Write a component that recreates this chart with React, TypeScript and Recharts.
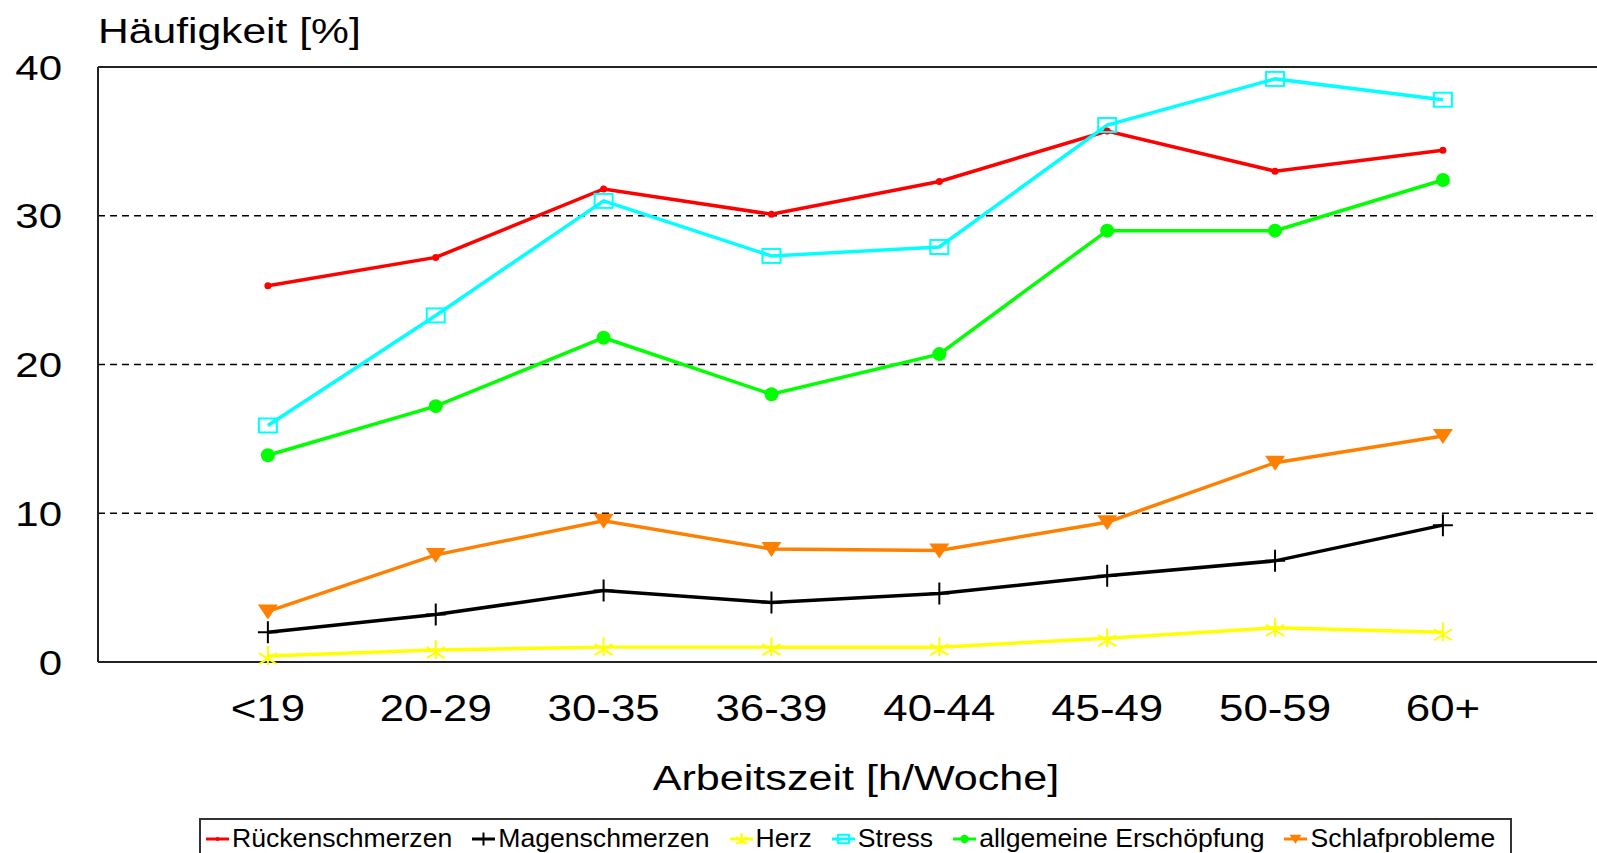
import React from 'react';
import { LineChart, Line, XAxis, YAxis, ReferenceLine } from 'recharts';

const categories = ['<19', '20-29', '30-35', '36-39', '40-44', '45-49', '50-59', '60+'];
const ruecken = [25.3, 27.2, 31.8, 30.1, 32.3, 35.7, 33.0, 34.4];
const magen = [2.0, 3.2, 4.8, 4.0, 4.6, 5.8, 6.8, 9.2];
const herz = [0.4, 0.8, 1.0, 1.0, 1.0, 1.6, 2.3, 2.0];
const stress = [15.9, 23.3, 31.0, 27.3, 27.9, 36.1, 39.2, 37.8];
const erschoepfung = [13.9, 17.2, 21.8, 18.0, 20.7, 29.0, 29.0, 32.4];
const schlaf = [3.4, 7.2, 9.5, 7.6, 7.5, 9.4, 13.4, 15.2];
const yTicks = [0, 10, 20, 30, 40];
const gridValues = [10, 20, 30];
const xTicks = categories.map((_, i) => i + 1);

type MarkerType = 'dot' | 'plus' | 'star' | 'square' | 'circle' | 'triangle';

const series: { key: string; name: string; color: string; marker: MarkerType; values: number[] }[] = [
  { key: 'ruecken', name: 'Rückenschmerzen', color: '#FF0000', marker: 'dot', values: ruecken },
  { key: 'magen', name: 'Magenschmerzen', color: '#000000', marker: 'plus', values: magen },
  { key: 'herz', name: 'Herz', color: '#FFFF00', marker: 'star', values: herz },
  { key: 'stress', name: 'Stress', color: '#00FFFF', marker: 'square', values: stress },
  { key: 'erschoepfung', name: 'allgemeine Erschöpfung', color: '#00FF00', marker: 'circle', values: erschoepfung },
  { key: 'schlaf', name: 'Schlafprobleme', color: '#FF8000', marker: 'triangle', values: schlaf },
];

const data = categories.map((c, i) => {
  const row: Record<string, number | string> = { x: i + 1, cat: c };
  series.forEach((s) => {
    row[s.key] = s.values[i];
  });
  return row;
});

const FONT = '"Liberation Sans", Arial, sans-serif';
const STRETCH = 1.2;

function Marker({ cx, cy, type, color, s = 1 }: { cx: number; cy: number; type: MarkerType; color: string; s?: number }) {
  switch (type) {
    case 'dot':
      return <circle cx={cx} cy={cy} r={3.5 * s} fill={color} />;
    case 'plus':
      return (
        <path
          d={`M${cx - 10 * s},${cy}H${cx + 10 * s}M${cx},${cy - 11 * s}V${cy + 11 * s}`}
          stroke={color}
          strokeWidth={2}
          fill="none"
        />
      );
    case 'star':
      return (
        <path
          d={`M${cx},${cy - 10 * s}V${cy + 9 * s}M${cx - 9 * s},${cy - 3 * s}L${cx + 9 * s},${cy + 8 * s}M${cx + 9 * s},${cy - 3 * s}L${cx - 9 * s},${cy + 8 * s}`}
          stroke={color}
          strokeWidth={2}
          fill="none"
        />
      );
    case 'square':
      return (
        <rect x={cx - 9 * s} y={cy - 7 * s} width={18 * s} height={14 * s} fill="none" stroke={color} strokeWidth={2} />
      );
    case 'circle':
      return <circle cx={cx} cy={cy} r={7 * s} fill={color} />;
    case 'triangle':
      return (
        <polygon
          points={`${cx - 10 * s},${cy - 7 * s} ${cx + 10 * s},${cy - 7 * s} ${cx},${cy + 8 * s}`}
          fill={color}
        />
      );
  }
  return null;
}

function YTick(props: any) {
  const { y, payload } = props;
  return (
    <text
      transform={`translate(62,${y + 12.5}) scale(${STRETCH},1)`}
      textAnchor="end"
      fontFamily={FONT}
      fontSize={35}
      fill="#000"
    >
      {payload.value}
    </text>
  );
}

function XTick(props: any) {
  const { x, payload } = props;
  const label = categories[payload.value - 1] ?? '';
  return (
    <text
      transform={`translate(${x},721) scale(${STRETCH},1)`}
      textAnchor="middle"
      fontFamily={FONT}
      fontSize={36.5}
      fill="#000"
    >
      {label}
    </text>
  );
}

export default function App() {
  return (
    <div style={{ position: 'fixed', left: 0, top: 0, width: 1597, height: 853, overflow: 'hidden', background: '#fff' }}>
      <LineChart width={1597} height={853} data={data} margin={{ top: 67, right: 0, bottom: 100, left: 0 }}>
        <XAxis
          dataKey="x"
          type="number"
          domain={[-0.012, 8.918]}
          ticks={xTicks}
          allowDataOverflow
          height={91}
          tickLine={false}
          axisLine={{ stroke: '#222', strokeWidth: 2 }}
          tick={<XTick />}
        />
        <YAxis
          type="number"
          domain={[0, 40]}
          ticks={yTicks}
          width={98}
          tickLine={false}
          axisLine={{ stroke: '#222', strokeWidth: 2 }}
          tick={<YTick />}
        />
        {gridValues.map((v) => (
          <ReferenceLine key={v} y={v} stroke="#000" strokeWidth={1.5} strokeDasharray="7 5" ifOverflow="extendDomain" />
        ))}
        <ReferenceLine y={40} stroke="#222" strokeWidth={2} />
        {series.map((s) => (
          <Line
            key={s.key}
            dataKey={s.key}
            name={s.name}
            stroke={s.color}
            strokeWidth={3.5}
            isAnimationActive={false}
            activeDot={false}
            dot={(p: any) => (
              <g key={`${s.key}-${p.index}`}>
                <Marker cx={p.cx} cy={p.cy} type={s.marker} color={s.color} />
              </g>
            )}
          />
        ))}
      </LineChart>
      <svg width={1597} height={853} style={{ position: 'absolute', left: 0, top: 0, pointerEvents: 'none' }}>
        <text transform={`translate(98,43) scale(${STRETCH},1)`} fontFamily={FONT} fontSize={35.5} fill="#000">
          Häufigkeit [%]
        </text>
        <text transform={`translate(856,790) scale(1.25,1)`} textAnchor="middle" fontFamily={FONT} fontSize={34.5} fill="#000">
          Arbeitszeit [h/Woche]
        </text>
      </svg>
      <div
        style={{
          position: 'absolute',
          left: 199,
          top: 818,
          width: 1313,
          height: 44,
          boxSizing: 'border-box',
          border: '2px solid #333',
          display: 'flex',
          alignItems: 'flex-start',
          paddingLeft: 5,
          paddingTop: 3,
          gap: 20,
          fontFamily: FONT,
          fontSize: 26.6,
          lineHeight: '30px',
          color: '#000',
        }}
      >
        {series.map((s) => (
          <div key={s.key} style={{ display: 'flex', alignItems: 'center', whiteSpace: 'nowrap' }}>
            <svg width={23} height={30} style={{ display: 'block', flex: 'none', marginRight: 3 }}>
              <line x1={0} y1={16} x2={23} y2={16} stroke={s.color} strokeWidth={3} />
              <Marker cx={11.5} cy={16} type={s.marker} color={s.color} s={0.6} />
            </svg>
            <span>{s.name}</span>
          </div>
        ))}
      </div>
    </div>
  );
}
